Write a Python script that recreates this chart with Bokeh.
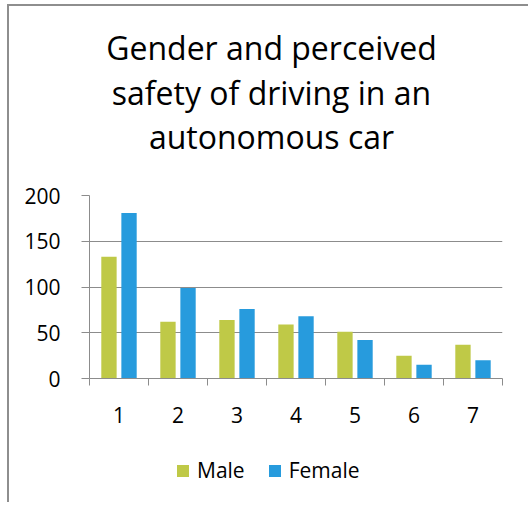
from bokeh.plotting import figure
from bokeh.models import ColumnDataSource, FixedTicker, Range1d, Legend, LegendItem, Div
from bokeh.layouts import column
from bokeh.embed import file_html
from bokeh.resources import INLINE

categories = ["1", "2", "3", "4", "5", "6", "7"]
positions = [1, 2, 3, 4, 5, 6, 7]
male = [133, 62, 64, 59, 51, 25, 37]
female = [181, 99, 76, 68, 42, 15, 20]
y_ticks = [0, 50, 100, 150, 200]
title_lines = ["Gender and perceived", "safety of driving in an", "autonomous car"]
series_names = ["Male", "Female"]

FONT = "Open Sans"
GRAY = "#8c8c8c"
MALE_C = "#BFC947"
FEMALE_C = "#279BDD"
W = 519

bw = 0.26
off = 0.17
src = ColumnDataSource(dict(
    xm=[p - off for p in positions],
    xf=[p + off for p in positions],
    male=male,
    female=female,
))

# ---- title ----
title = Div(text="<br>".join(title_lines), width=W, height=170, margin=0,
            styles={"font-family": "'Open Sans'", "font-size": "32px", "line-height": "44.5px",
                    "text-align": "center", "color": "black",
                    "padding-top": "20px", "padding-left": "6px", "box-sizing": "border-box",
                    "width": f"{W}px"})

# ---- main plot ----
p = figure(width=W, height=254, output_backend="svg", toolbar_location=None,
           x_range=Range1d(0.5, 7.5), y_range=Range1d(0, 200), margin=0,
           min_border_left=80, min_border_right=26, min_border_top=19, min_border_bottom=52)
p.outline_line_color = None
p.background_fill_color = "white"
p.border_fill_color = "white"

rm = p.vbar(x="xm", top="male", width=bw, source=src, fill_color=MALE_C, line_color=None)
rf = p.vbar(x="xf", top="female", width=bw, source=src, fill_color=FEMALE_C, line_color=None)

# x axis: labels at category centres, ticks between categories
p.xaxis.ticker = FixedTicker(ticks=positions, minor_ticks=[v - 0.5 for v in positions] + [positions[-1] + 0.5])
p.xaxis.major_label_overrides = {pos: c for pos, c in zip(positions, categories)}
p.xaxis.major_tick_line_color = None
p.xaxis.minor_tick_line_color = GRAY
p.xaxis.minor_tick_out = 7
p.xaxis.minor_tick_in = 0
p.xaxis.axis_line_color = GRAY
p.xaxis.major_label_text_font = FONT
p.xaxis.major_label_text_font_size = "21px"
p.xaxis.major_label_text_color = "black"
p.xaxis.major_label_standoff = 21
p.xgrid.grid_line_color = None

# y axis
p.yaxis.ticker = FixedTicker(ticks=y_ticks)
p.yaxis.minor_tick_line_color = None
p.yaxis.major_tick_line_color = GRAY
p.yaxis.major_tick_out = 8
p.yaxis.major_tick_in = 0
p.yaxis.axis_line_color = GRAY
p.yaxis.major_label_text_font = FONT
p.yaxis.major_label_text_font_size = "21px"
p.yaxis.major_label_text_color = "black"
p.yaxis.major_label_standoff = 21
p.ygrid.grid_line_color = GRAY
p.ygrid.grid_line_width = 1

# ---- legend strip ----
pl = figure(width=W, height=72, output_backend="svg", toolbar_location=None,
            x_range=Range1d(0.5, 7.5), y_range=Range1d(1000, 1001), margin=0,
            x_axis_type=None, y_axis_type=None,
            min_border_left=0, min_border_right=0, min_border_top=0, min_border_bottom=0)
pl.outline_line_color = None
pl.grid.grid_line_color = None
lm = pl.vbar(x="xm", top="male", width=bw, source=src, fill_color=MALE_C, line_color=None)
lf = pl.vbar(x="xf", top="female", width=bw, source=src, fill_color=FEMALE_C, line_color=None)
legend = Legend(items=[LegendItem(label=series_names[0], renderers=[lm]),
                       LegendItem(label=series_names[1], renderers=[lf])],
                orientation="horizontal", location=(86, 18),
                label_text_font=FONT, label_text_font_size="21px", label_text_color="black",
                glyph_width=15, glyph_height=15, spacing=22, label_standoff=7,
                border_line_color=None, background_fill_alpha=0, margin=0, padding=0)
pl.add_layout(legend, "center")

layout = column(title, p, pl, spacing=0,
                styles={"margin-left": "7px", "margin-top": "4px",
                        "border-left": "2px solid #8e8e8e", "border-top": "2px solid #8e8e8e"})

open("out.html", "w").write(file_html(layout, INLINE))
